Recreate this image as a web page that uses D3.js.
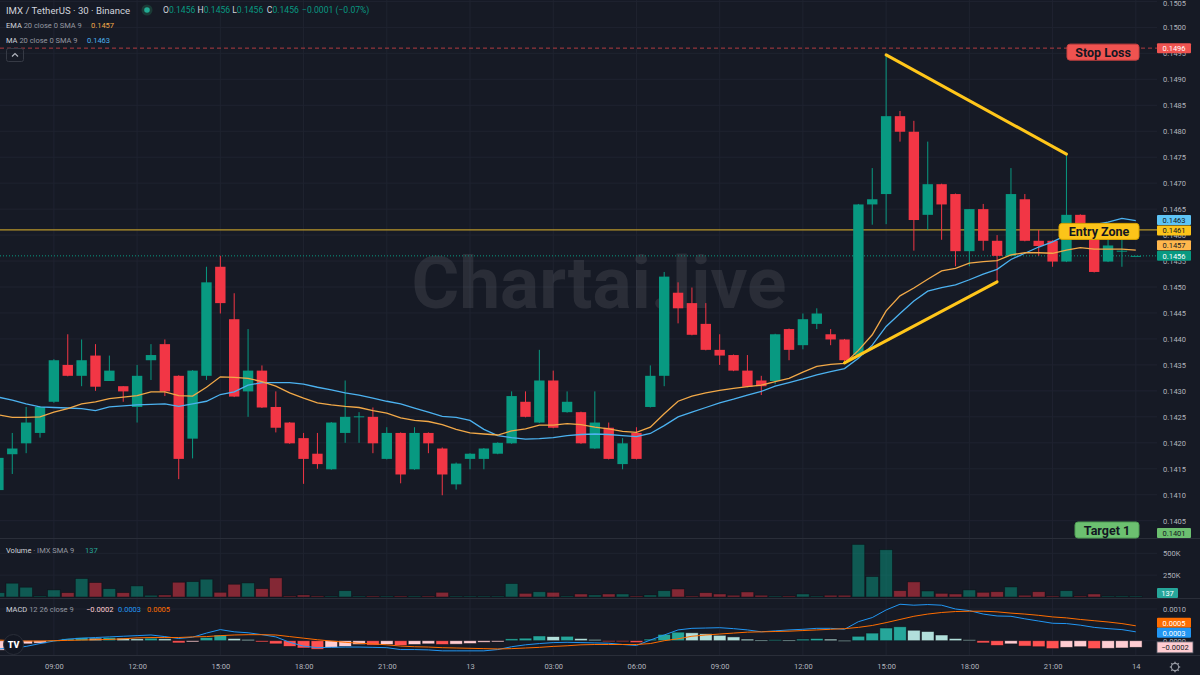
<!DOCTYPE html>
<html><head><meta charset="utf-8">
<script src="https://cdn.jsdelivr.net/npm/d3@7/dist/d3.min.js"></script>
<style>
html,body{margin:0;padding:0;background:#161a25;}
svg{display:block;font-family:Roboto,"Noto Sans",sans-serif;}
</style></head><body>
<svg id="chart" width="1200" height="675"></svg>
<script>
// ---------------- DATA ----------------
const timeLabels = ["09:00","12:00","15:00","18:00","21:00","13","03:00","06:00","09:00","12:00","15:00","18:00","21:00","14"];
const timeLabelIndex = [4,10,16,22,28,34,40,46,52,58,64,70,76,82];

const open = [0.14109,0.14178,0.14199,0.14219,0.14279,0.14350,0.14329,0.14368,0.14319,0.14309,
0.14269,0.14359,0.14390,0.14329,0.14208,0.14329,0.14539,0.14438,0.14299,0.14339,
0.14269,0.14239,0.14209,0.14179,0.14149,0.14219,0.14250,0.14250,0.14169,0.14219,
0.14149,0.14219,0.14189,0.14120,0.14169,0.14169,0.14179,0.14199,0.14279,0.14239,
0.14320,0.14259,0.14259,0.14189,0.14229,0.14159,0.14219,0.14269,0.14329,0.14489,
0.14469,0.14429,0.14379,0.14369,0.14339,0.14320,0.14319,0.14419,0.14388,0.14429,
0.14409,0.14399,0.14369,0.14659,0.14679,0.14829,0.14799,0.14639,0.14698,0.14679,
0.14569,0.14650,0.14589,0.14560,0.14669,0.14589,0.14589,0.14549,0.14639,0.14598,
0.14549,0.14568,0.14560];
const high = [0.14175,0.14219,0.14269,0.14271,0.14361,0.14409,0.14399,0.14390,0.14368,0.14309,
0.14350,0.14390,0.14399,0.14330,0.14340,0.14539,0.14560,0.14488,0.14419,0.14349,
0.14299,0.14240,0.14219,0.14219,0.14240,0.14320,0.14259,0.14268,0.14230,0.14220,
0.14230,0.14220,0.14191,0.14162,0.14180,0.14190,0.14201,0.14299,0.14299,0.14379,
0.14339,0.14299,0.14260,0.14299,0.14239,0.14209,0.14230,0.14349,0.14529,0.14509,
0.14499,0.14469,0.14409,0.14370,0.14369,0.14329,0.14410,0.14420,0.14449,0.14459,
0.14419,0.14400,0.14660,0.14729,0.14947,0.14839,0.14820,0.14780,0.14699,0.14680,
0.14650,0.14660,0.14600,0.14729,0.14679,0.14610,0.14590,0.14756,0.14640,0.14602,
0.14591,0.14594,0.14560];
const low = [0.14105,0.14140,0.14180,0.14210,0.14277,0.14328,0.14309,0.14300,0.14319,0.14279,
0.14239,0.14321,0.14290,0.14130,0.14170,0.14321,0.14449,0.14288,0.14250,0.14267,
0.14220,0.14198,0.14121,0.14150,0.14148,0.14200,0.14200,0.14180,0.14168,0.14122,
0.14148,0.14180,0.14099,0.14110,0.14149,0.14149,0.14178,0.14198,0.14249,0.14238,
0.14228,0.14258,0.14198,0.14188,0.14168,0.14149,0.14168,0.14268,0.14309,0.14430,
0.14407,0.14378,0.14350,0.14338,0.14307,0.14292,0.14313,0.14359,0.14380,0.14419,
0.14388,0.14356,0.14365,0.14620,0.14621,0.14780,0.14570,0.14610,0.14591,0.14540,
0.14540,0.14570,0.14510,0.14559,0.14588,0.14560,0.14539,0.14548,0.14594,0.14528,
0.14548,0.14539,0.14560];
const close = [0.14171,0.14189,0.14239,0.14269,0.14359,0.14329,0.14359,0.14308,0.14339,0.14299,
0.14329,0.14369,0.14299,0.14169,0.14339,0.14509,0.14469,0.14289,0.14339,0.14268,
0.14229,0.14199,0.14169,0.14159,0.14239,0.14250,0.14251,0.14199,0.14219,0.14139,
0.14219,0.14199,0.14139,0.14160,0.14179,0.14189,0.14200,0.14290,0.14250,0.14320,
0.14229,0.14279,0.14199,0.14239,0.14169,0.14199,0.14169,0.14329,0.14520,0.14459,
0.14408,0.14379,0.14368,0.14339,0.14308,0.14309,0.14409,0.14379,0.14438,0.14449,
0.14399,0.14359,0.14659,0.14669,0.14829,0.14799,0.14629,0.14698,0.14659,0.14569,
0.14650,0.14589,0.14560,0.14679,0.14589,0.14579,0.14549,0.14639,0.14598,0.14529,
0.14580,0.14570,0.14560];
const volume = [50000,158000,112000,12000,81000,50000,211000,165000,96000,50000,
127000,20000,23000,169000,176000,204000,54000,146000,161000,96000,
219000,12000,23000,12000,5000,73000,8000,5000,5000,8000,
12000,8000,54000,5000,8000,8000,8000,154000,42000,61000,
54000,12000,35000,23000,35000,35000,8000,23000,73000,92000,
12000,50000,35000,20000,58000,20000,10000,10000,35000,5000,
20000,20000,602000,234000,541000,73000,173000,69000,42000,35000,
81000,54000,61000,115000,20000,61000,12000,73000,12000,35000,
5000,12000,137];
const ema20 = [0.14254,0.14249,0.14249,0.14250,0.14259,0.14266,0.14275,0.14279,0.14285,0.14288,
0.14291,0.14298,0.14298,0.14291,0.14290,0.14307,0.14327,0.14326,0.14324,0.14318,
0.14309,0.14296,0.14286,0.14277,0.14273,0.14270,0.14268,0.14262,0.14257,0.14248,
0.14243,0.14241,0.14235,0.14226,0.14219,0.14217,0.14215,0.14223,0.14227,0.14234,
0.14234,0.14237,0.14235,0.14230,0.14227,0.14222,0.14220,0.14230,0.14256,0.14280,
0.14290,0.14296,0.14301,0.14305,0.14308,0.14311,0.14318,0.14324,0.14336,0.14347,
0.14351,0.14353,0.14378,0.14408,0.14454,0.14483,0.14498,0.14515,0.14531,0.14536,
0.14546,0.14549,0.14551,0.14562,0.14566,0.14566,0.14565,0.14571,0.14576,0.14573,
0.14573,0.14573,0.14571];
const ma20 = [0.14288,0.14282,0.14275,0.14269,0.14268,0.14267,0.14266,0.14262,0.14269,0.14271,
0.14273,0.14274,0.14275,0.14270,0.14275,0.14280,0.14293,0.14298,0.14311,0.14316,
0.14316,0.14316,0.14313,0.14307,0.14302,0.14296,0.14292,0.14286,0.14280,0.14275,
0.14267,0.14259,0.14251,0.14249,0.14243,0.14226,0.14214,0.14210,0.14207,0.14208,
0.14210,0.14214,0.14216,0.14217,0.14216,0.14214,0.14212,0.14218,0.14233,0.14250,
0.14259,0.14268,0.14277,0.14284,0.14292,0.14299,0.14309,0.14316,0.14323,0.14331,
0.14337,0.14343,0.14363,0.14388,0.14424,0.14449,0.14473,0.14492,0.14499,0.14504,
0.14514,0.14525,0.14534,0.14553,0.14565,0.14577,0.14587,0.14600,0.14613,0.14620,
0.14625,0.14632,0.14628];
const macdLine = [-0.00026,-0.00023,-0.00018,-0.00009,-0.00001,0.00005,0.00008,0.00010,0.00012,0.00014,
0.00016,0.00018,0.00013,0.00007,0.00011,0.00024,0.00035,0.00028,0.00025,0.00019,
0.00012,-0.00005,-0.00017,-0.00022,-0.00021,-0.00020,-0.00020,-0.00021,-0.00022,-0.00028,
-0.00028,-0.00029,-0.00032,-0.00032,-0.00032,-0.00032,-0.00028,-0.00019,-0.00013,-0.00009,
-0.00006,-0.00005,-0.00006,-0.00007,-0.00008,-0.00012,-0.00015,0.00002,0.00018,0.00034,
0.00039,0.00040,0.00041,0.00038,0.00034,0.00028,0.00031,0.00034,0.00036,0.00039,
0.00039,0.00036,0.00060,0.00073,0.00097,0.00115,0.00112,0.00114,0.00112,0.00100,
0.00095,0.00084,0.00078,0.00077,0.00069,0.00062,0.00055,0.00054,0.00049,0.00042,
0.00038,0.00035,0.00028];
const signalLine = [0.00002,0.00000,-0.00001,-0.00001,0.00000,0.00001,0.00002,0.00003,0.00004,0.00006,
0.00009,0.00010,0.00010,0.00010,0.00012,0.00013,0.00016,0.00018,0.00019,0.00019,
0.00018,0.00013,0.00008,0.00003,-0.00001,-0.00005,-0.00008,-0.00010,-0.00013,-0.00017,
-0.00019,-0.00020,-0.00022,-0.00023,-0.00024,-0.00025,-0.00026,-0.00025,-0.00023,-0.00021,
-0.00018,-0.00016,-0.00013,-0.00012,-0.00012,-0.00012,-0.00012,-0.00009,0.00000,0.00006,
0.00014,0.00018,0.00021,0.00024,0.00027,0.00028,0.00029,0.00030,0.00032,0.00034,
0.00036,0.00038,0.00042,0.00048,0.00057,0.00067,0.00077,0.00084,0.00089,0.00092,
0.00093,0.00093,0.00091,0.00087,0.00084,0.00080,0.00075,0.00072,0.00067,0.00063,
0.00059,0.00054,0.00047];
const histogram = [-0.00030,-0.00018,-0.00010,-0.00008,0.00001,0.00006,0.00010,0.00008,0.00010,0.00008,
0.00006,0.00008,0.00006,-0.00007,-0.00004,0.00010,0.00018,0.00007,0.00004,-0.00004,
-0.00010,-0.00018,-0.00023,-0.00027,-0.00021,-0.00018,-0.00012,-0.00014,-0.00012,-0.00015,
-0.00012,-0.00010,-0.00012,-0.00011,-0.00009,-0.00005,-0.00004,0.00006,0.00008,0.00015,
0.00013,0.00014,0.00007,0.00004,-0.00001,-0.00003,-0.00006,0.00005,0.00020,0.00027,
0.00025,0.00022,0.00017,0.00012,0.00005,0.00002,0.00003,0.00002,0.00005,0.00007,
0.00005,0.00001,0.00014,0.00024,0.00040,0.00044,0.00033,0.00029,0.00018,0.00007,
0.00003,-0.00007,-0.00015,-0.00010,-0.00017,-0.00019,-0.00025,-0.00021,-0.00019,-0.00025,
-0.00024,-0.00023,-0.00021];

const priceTicks = [0.1405,0.1410,0.1415,0.1420,0.1425,0.1430,0.1435,0.1440,0.1445,0.1450,0.1455,0.1460,0.1465,0.1470,0.1475,0.1480,0.1485,0.1490,0.1495,0.1500,0.1505];
const volumeTicks = [250000,500000];
const volumeTickLabels = ["250K","500K"];
const macdTicks = [0.0000,0.0010];

const levelNames = ["Stop Loss","Entry Zone","Target 1"];
const levelPrices = [0.1496,0.1461,0.1401];
const trendStartIdx = [64,61];
const trendEndIdx = [77,72];
const trendStartPrice = [0.14947,0.14354];
const trendEndPrice = [0.14756,0.14510];

// ---------------- SETUP ----------------
const W=1200,H=675, plotR=1157;
const svg=d3.select("#chart");
const BG="#161a25", GRID="#1f2330", TXT="#b2b5be";
const UP="#089981", DN="#f23645";
const EMA_C="#f2a948", MA_C="#4cb2f0", MACD_C="#2196f3", SIG_C="#ff6d00";
const FONT="Roboto, 'Noto Sans', sans-serif";
const n=close.length;
const x=d3.scaleLinear().domain([0,82]).range([-1.6,1135.8]);
const yP=d3.scaleLinear().domain([0.1405,0.1505]).range([520.7,1.4]);
const yV=d3.scaleLinear().domain([0,500000]).range([597,553.3]);
const yM=d3.scaleLinear().domain([0,0.001]).range([640.7,609]);
const f4=d3.format(".4f");

svg.append("rect").attr("width",W).attr("height",H).attr("fill",BG);
const defs=svg.append("defs");
defs.append("clipPath").attr("id","cP").append("rect").attr("x",0).attr("y",0).attr("width",plotR).attr("height",538);
defs.append("clipPath").attr("id","cV").append("rect").attr("x",0).attr("y",539).attr("width",plotR).attr("height",59);
defs.append("clipPath").attr("id","cM").append("rect").attr("x",0).attr("y",599).attr("width",plotR).attr("height",56);

// grid
const grid=svg.append("g");
grid.selectAll(".vg").data(timeLabelIndex).join("line")
  .attr("x1",d=>x(d)).attr("x2",d=>x(d)).attr("y1",0).attr("y2",655)
  .attr("stroke",GRID).attr("stroke-width",1);
grid.selectAll(".hg").data(priceTicks).join("line")
  .attr("x1",0).attr("x2",plotR).attr("y1",d=>yP(d)).attr("y2",d=>yP(d))
  .attr("stroke",GRID).attr("stroke-width",1);
grid.selectAll(".hv").data(volumeTicks).join("line")
  .attr("x1",0).attr("x2",plotR).attr("y1",d=>yV(d)).attr("y2",d=>yV(d))
  .attr("stroke",GRID).attr("stroke-width",1);
grid.selectAll(".hm").data(macdTicks).join("line")
  .attr("x1",0).attr("x2",plotR).attr("y1",d=>yM(d)).attr("y2",d=>yM(d))
  .attr("stroke",GRID).attr("stroke-width",1);

// pane separators
[538.5,598.5,655.5].forEach(y=>svg.append("line").attr("x1",0).attr("x2",W).attr("y1",y).attr("y2",y).attr("stroke","#2a2e39"));

// watermark
svg.append("text").attr("x",599).attr("y",283).attr("text-anchor","middle").attr("dominant-baseline","central")
  .attr("font-size",73).attr("font-weight",700).attr("fill","rgba(255,255,255,0.085)").text("Chartai.live");

// ---------------- PRICE PANE ----------------
const gP=svg.append("g").attr("clip-path","url(#cP)");
gP.append("line").attr("x1",0).attr("x2",plotR).attr("y1",yP(levelPrices[0])).attr("y2",yP(levelPrices[0]))
  .attr("stroke","#b23c40").attr("stroke-width",1).attr("stroke-dasharray","4,3");
gP.append("line").attr("x1",0).attr("x2",plotR).attr("y1",yP(levelPrices[1])).attr("y2",yP(levelPrices[1]))
  .attr("stroke","#b8962a").attr("stroke-width",1.3);
gP.append("line").attr("x1",0).attr("x2",plotR).attr("y1",yP(close[n-1])).attr("y2",yP(close[n-1]))
  .attr("stroke",UP).attr("stroke-width",1).attr("stroke-dasharray","1,2");

const data=d3.range(n).map(i=>({i,o:open[i],h:high[i],l:low[i],c:close[i],v:volume[i]}));
const col=d=>d.c>=d.o?UP:DN;
const bw=10.4;
gP.selectAll(".wick").data(data).join("line")
  .attr("x1",d=>x(d.i)).attr("x2",d=>x(d.i)).attr("y1",d=>yP(d.h)).attr("y2",d=>yP(d.l))
  .attr("stroke",col).attr("stroke-width",1);
gP.selectAll(".body").data(data).join("rect")
  .attr("x",d=>x(d.i)-bw/2).attr("width",bw)
  .attr("y",d=>yP(Math.max(d.o,d.c)))
  .attr("height",d=>Math.max(1,Math.abs(yP(d.o)-yP(d.c))))
  .attr("fill",col);

const lineP=d3.line().x((d,i)=>x(i)).y(d=>yP(d));
gP.append("path").attr("d",lineP(ma20)).attr("fill","none").attr("stroke",MA_C).attr("stroke-width",1.3);
gP.append("path").attr("d",lineP(ema20)).attr("fill","none").attr("stroke",EMA_C).attr("stroke-width",1.3);

gP.selectAll(".trend").data(d3.range(trendStartIdx.length)).join("line")
  .attr("x1",k=>x(trendStartIdx[k])).attr("y1",k=>yP(trendStartPrice[k]))
  .attr("x2",k=>x(trendEndIdx[k])).attr("y2",k=>yP(trendEndPrice[k]))
  .attr("stroke","#ffc61a").attr("stroke-width",3).attr("stroke-linecap","round");

const lvlStyle=[{fill:"#ef5350",stroke:"#c94141",w:72},{fill:"#fcc419",stroke:"#d9a400",w:80},{fill:"#6cc070",stroke:"#4f9e54",w:64}];
levelNames.forEach((name,k)=>{
  const st=lvlStyle[k];
  let cy=yP(levelPrices[k])+ (k===0?4:1.5);
  cy=Math.min(cy,530);
  const x1=1139-st.w;
  svg.append("rect").attr("x",x1).attr("y",cy-8).attr("width",st.w).attr("height",16).attr("rx",3)
    .attr("fill",st.fill).attr("stroke",st.stroke).attr("stroke-width",1);
  svg.append("text").attr("x",x1+st.w/2).attr("y",cy+0.5).attr("text-anchor","middle").attr("dominant-baseline","central")
    .attr("font-size",12.5).attr("font-weight",700).attr("fill","#131722").text(name);
});

// ---------------- VOLUME PANE ----------------
const gV=svg.append("g").attr("clip-path","url(#cV)");
gV.selectAll(".vol").data(data).join("rect")
  .attr("x",d=>x(d.i)-6.3).attr("width",12.6)
  .attr("y",d=>Math.min(yV(d.v),596))
  .attr("height",d=>Math.max(1,yV(0)-yV(d.v)))
  .attr("fill",d=>d.c>=d.o?"rgba(8,153,129,0.5)":"rgba(242,54,69,0.5)")
  .attr("stroke","rgba(10,12,18,0.55)").attr("stroke-width",0.8);

// ---------------- MACD PANE ----------------
const gM=svg.append("g").attr("clip-path","url(#cM)");
const hcol=(v,i)=>{const p=i>0?histogram[i-1]:v-1; if(v>=0) return p<v?"#26a69a":"#b2dfdb"; return p<v?"#ffcdd2":"#ff5252";};
gM.selectAll(".hist").data(histogram).join("rect")
  .attr("x",(d,i)=>x(i)-6.3).attr("width",12.6)
  .attr("y",d=>yM(Math.max(0,d))).attr("height",d=>Math.max(1,Math.abs(yM(d)-yM(0))))
  .attr("fill",hcol).attr("stroke","rgba(10,12,18,0.6)").attr("stroke-width",0.8);
const lineM=d3.line().x((d,i)=>x(i)).y(d=>yM(d));
gM.append("path").attr("d",lineM(macdLine)).attr("fill","none").attr("stroke",MACD_C).attr("stroke-width",1);
gM.append("path").attr("d",lineM(signalLine)).attr("fill","none").attr("stroke",SIG_C).attr("stroke-width",1);

// ---------------- AXES ----------------
const axP=svg.append("g").attr("transform",`translate(1163,0)`)
  .call(d3.axisRight(yP).tickValues(priceTicks).tickSize(0).tickPadding(0).tickFormat(f4));
const axV=svg.append("g").attr("transform",`translate(1163,0)`)
  .call(d3.axisRight(yV).tickValues(volumeTicks).tickSize(0).tickPadding(0).tickFormat((d,i)=>volumeTickLabels[i]));
const axM=svg.append("g").attr("transform",`translate(1163,0)`)
  .call(d3.axisRight(yM).tickValues(macdTicks).tickSize(0).tickPadding(0).tickFormat(f4));
const axT=svg.append("g").attr("transform",`translate(0,662)`)
  .call(d3.axisBottom(x).tickValues(timeLabelIndex).tickSize(0).tickPadding(0).tickFormat((d,i)=>timeLabels[i]));
[axP,axV,axM,axT].forEach(a=>{a.select(".domain").remove();
  a.selectAll("text").attr("fill",TXT).attr("font-size",7.5).attr("font-family",FONT);});
axP.selectAll(".tick").filter(d=>d===0.1505).select("text").attr("dy","0.55em");
axT.selectAll("text").attr("dy","0.32em").attr("y",5);

function tag(y,txt,fill,tc,w){
  w=w||34;
  svg.append("rect").attr("x",1157).attr("y",y-5).attr("width",w).attr("height",10).attr("rx",1).attr("fill",fill);
  svg.append("text").attr("x",1157+w/2).attr("y",y+0.3).attr("text-anchor","middle").attr("dominant-baseline","central")
    .attr("font-size",7.5).attr("fill",tc).attr("font-family",FONT).text(txt);
}
tag(yP(levelPrices[0]),f4(levelPrices[0]),"#ef5350","#ffffff");
tag(yP(ma20[n-1])-0.5,f4(ma20[n-1]),"#5ec4f5","#131722");
tag(yP(levelPrices[1])+0.5,f4(levelPrices[1]),"#fcc419","#131722");
tag(yP(ema20[n-1])-5,f4(ema20[n-1]),"#ffb74d","#131722");
tag(yP(close[n-1]),f4(close[n-1]),UP,"#ffffff");
tag(Math.min(yP(levelPrices[2]),533),f4(levelPrices[2]),"#6cc070","#131722");
tag(593,String(volume[n-1]),"#26a69a","#ffffff",21);
tag(yM(signalLine[n-1])-3,f4(signalLine[n-1]),SIG_C,"#ffffff");
tag(yM(macdLine[n-1])+1,f4(macdLine[n-1]),MACD_C,"#ffffff");
svg.append("rect").attr("x",1157).attr("y",yM(histogram[n-1])-5.5).attr("width",36).attr("height",11).attr("fill","#ffcdd2").attr("stroke","#555a66").attr("stroke-width",0.8);
svg.append("text").attr("x",1175).attr("y",yM(histogram[n-1])+0.3).attr("text-anchor","middle").attr("dominant-baseline","central")
  .attr("font-size",7.5).attr("fill","#131722").attr("font-family",FONT).text(f4(histogram[n-1]));

const gear=svg.append("g").attr("transform","translate(1175,667)");
d3.range(8).forEach(k=>{const a=k*Math.PI/4;gear.append("line").attr("x1",Math.cos(a)*3.5).attr("y1",Math.sin(a)*3.5)
  .attr("x2",Math.cos(a)*5.2).attr("y2",Math.sin(a)*5.2).attr("stroke","#9598a1").attr("stroke-width",1.4);});
gear.append("circle").attr("r",3.6).attr("fill","none").attr("stroke","#9598a1").attr("stroke-width",1.1);

// ---------------- LEGENDS ----------------
const lg=svg.append("g").attr("font-family",FONT);
lg.append("text").attr("x",6).attr("y",10).attr("dominant-baseline","central").attr("font-size",9.6).attr("fill","#d1d4dc")
  .text("IMX / TetherUS · 30 · Binance");
lg.append("circle").attr("cx",147).attr("cy",10).attr("r",5.5).attr("fill","#1b3a36");
lg.append("circle").attr("cx",147).attr("cy",10).attr("r",2.8).attr("fill","#22ab94");
const last=n-1, chg=close[last]-close[last-1];
["O","H","L","C"].forEach((lab,k)=>{
  const v=[open,high,low,close][k][last];
  const t=lg.append("text").attr("x",163+k*34.6).attr("y",10).attr("dominant-baseline","central").attr("font-size",8.6);
  t.append("tspan").attr("fill","#d1d4dc").text(lab);
  t.append("tspan").attr("fill",UP).text(f4(v));
});
lg.append("text").attr("x",302).attr("y",10).attr("dominant-baseline","central").attr("font-size",8.6).attr("fill",UP)
  .text(f4(chg)+" ("+d3.format(".2%")(chg/close[last-1])+")");
function indLegend(y,name,params,vals,cols,xs){
  const t=lg.append("text").attr("x",6).attr("y",y).attr("dominant-baseline","central").attr("font-size",7.5);
  t.append("tspan").attr("fill","#d1d4dc").text(name);
  t.append("tspan").attr("fill","#9598a1").text(" "+params);
  vals.forEach((v,k)=>lg.append("text").attr("x",xs[k]).attr("y",y).attr("dominant-baseline","central").attr("font-size",7.5).attr("fill",cols[k]).text(v));
}
indLegend(25,"EMA","20 close 0 SMA 9",[f4(ema20[last])],[EMA_C],[91]);
indLegend(40,"MA","20 close 0 SMA 9",[f4(ma20[last])],[MA_C],[87]);
indLegend(550,"Volume","· IMX SMA 9",[String(volume[last])],["#26a69a"],[85]);
indLegend(609,"MACD","12 26 close 9",[f4(histogram[last]),f4(macdLine[last]),f4(signalLine[last])],["#ffcdd2",MACD_C,SIG_C],[86,118,147]);
lg.append("rect").attr("x",6.5).attr("y",48.5).attr("width",17).attr("height",13).attr("rx",2).attr("fill","none").attr("stroke","#363a45");
lg.append("path").attr("d","M12 56.5 L15 53.5 L18 56.5").attr("fill","none").attr("stroke","#b2b5be").attr("stroke-width",1.2);
lg.append("circle").attr("cx",13.5).attr("cy",644.5).attr("r",10).attr("fill","#131722").attr("stroke","#2a2e39");
lg.append("text").attr("x",13.5).attr("y",645).attr("text-anchor","middle").attr("dominant-baseline","central")
  .attr("font-size",9).attr("font-weight",900).attr("fill","#ffffff").text("TV");
</script>
</body></html>
